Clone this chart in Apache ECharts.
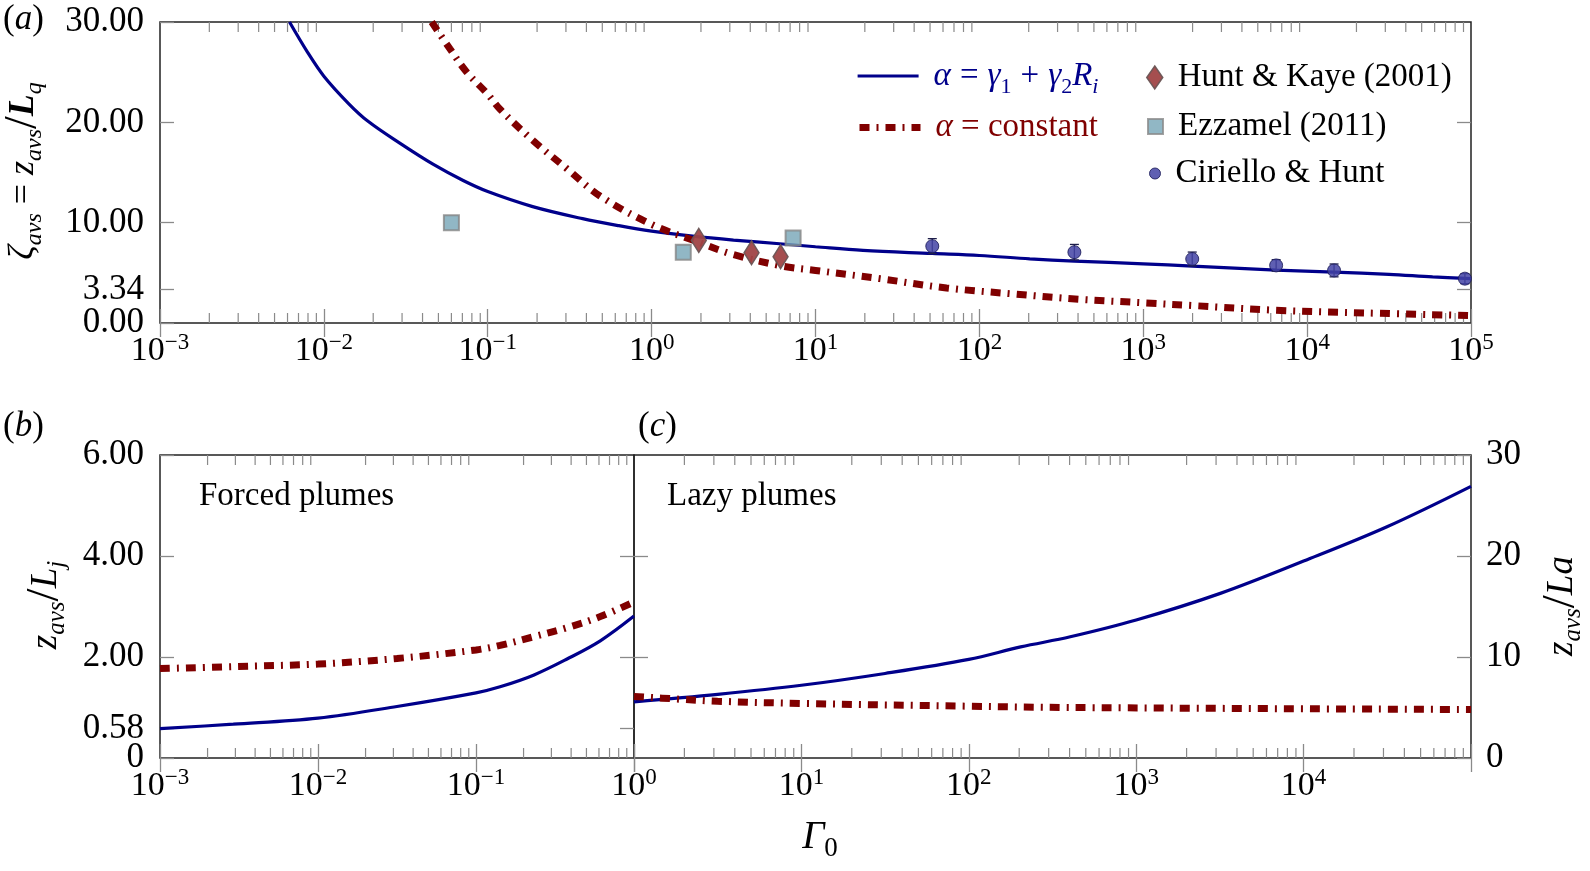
<!DOCTYPE html>
<html>
<head>
<meta charset="utf-8">
<script src="https://cdn.jsdelivr.net/npm/echarts@6.0.0/dist/echarts.min.js"></script>
<style>html,body{margin:0;padding:0;background:#fff}#chart{width:1590px;height:871px}</style>
</head>
<body>
<div id="chart"></div>
<script>
// ---------- Panel (a): zeta_avs vs Gamma_0 ----------
const aBlueX = [0.00617, 0.00794, 0.01, 0.0141, 0.0186, 0.0292, 0.0466, 0.0708, 0.1, 0.188, 0.379, 0.631, 1, 1.78, 3.16, 6.03, 10, 19.5, 51.6, 100, 203, 380, 1000, 2000, 6470, 14600, 31600, 58300, 100000];
const aBlueY = [30, 27.0, 24.6, 21.9, 20.1, 17.9, 15.8, 14.2, 13.1, 11.6, 10.4, 9.7, 9.16, 8.65, 8.26, 7.9, 7.6, 7.23, 6.93, 6.73, 6.4, 6.17, 5.9, 5.67, 5.27, 5.07, 4.85, 4.6, 4.43];
const aRedX = [0.0455, 0.0589, 0.0745, 0.1, 0.119, 0.19, 0.303, 0.484, 1, 1.97, 3.14, 6.34, 10, 24.7, 63.0, 160, 409, 1040, 2000, 6460, 22900, 100000];
const aRedY = [30, 27.3, 25.0, 22.8, 21.3, 18.15, 15.4, 12.66, 9.83, 8.0, 6.83, 5.66, 5.24, 4.42, 3.49, 2.9, 2.36, 2.0, 1.74, 1.27, 1.0, 0.74];
const hkX = [1.94, 4.07, 6.12];
const hkY = [8.23, 7.0, 6.6];
const ezX = [0.06, 1.56, 7.3];
const ezY = [10.0, 7.06, 8.46];
const chX = [51.6, 380, 1990, 6470, 14600, 91800];
const chY = [7.66, 7.06, 6.38, 5.74, 5.24, 4.42];
const chErr = [0.75, 0.77, 0.69, 0.57, 0.64, 0.5];
const aYTicks = [0, 3.34, 10, 20, 30];

// ---------- Panel (b): forced plumes ----------
const bX = [0.001, 0.00291, 0.01, 0.0316, 0.1, 0.142, 0.231, 0.377, 0.612, 1];
const bBlueY = [0.58, 0.67, 0.79, 1.02, 1.29, 1.41, 1.64, 1.96, 2.32, 2.81];
const bRedY = [1.77, 1.81, 1.86, 1.97, 2.14, 2.23, 2.4, 2.58, 2.8, 3.09];
const bYTicks = [0, 0.58, 2, 4, 6];

// ---------- Panel (c): lazy plumes ----------
const cBlueX = [1, 3.16, 10, 31.6, 100, 204, 404, 1000, 3180, 10000, 31500, 100000];
const cBlueY = [5.56, 6.3, 7.2, 8.37, 9.76, 11.0, 12.0, 13.66, 16.3, 19.5, 22.9, 26.9];
const cRedX = [1, 1.89, 3.16, 10, 100, 404, 100000];
const cRedY = [6.1, 5.82, 5.62, 5.4, 5.13, 5.0, 4.8];
const cYTicks = [0, 10, 20, 30];

const NAME_VAR = 'α = γ1 + γ2Ri';
const NAME_CONST = 'α = constant';
const NAME_HK = 'Hunt & Kaye (2001)';
const NAME_EZ = 'Ezzamel (2011)';
const NAME_CH = 'Ciriello & Hunt';

// ---------- styling ----------
const FF = '"Liberation Serif","DejaVu Serif","Times New Roman",serif';
const BLUE = '#00008b', RED = '#800000', TICK = '#8a8a8a', FRAME = '#222';
const DASHDOT = [10, 7, 2, 7];
const GA = { left: 160, top: 22, width: 1311, height: 301 };
const GB = { left: 160, top: 455, width: 474, height: 303 };
const GC = { left: 634, top: 455, width: 837, height: 303 };
const YLABEL_MARGIN = 16;

function pairs(xs, ys) { return xs.map((x, i) => [x, ys[i]]); }
function triples(xs, ys, es) { return xs.map((x, i) => [x, ys[i], es[i]]); }
function decadeMinors(e0, e1) {
  const out = [];
  for (let e = e0; e < e1; e++) for (let m = 2; m <= 9; m++) out.push([m * Math.pow(10, e), 0]);
  return out;
}

const tickRich = {
  b: { fontFamily: FF, fontSize: 34, lineHeight: 36, color: '#000' },
  p: { fontFamily: FF, fontSize: 23, lineHeight: 23, padding: [0, 0, 17, 0], color: '#000' }
};
function powLabel(v) {
  const e = Math.round(Math.log10(v));
  return '{b|10}{p|' + (e < 0 ? '\u2212' + (-e) : String(e)) + '}';
}
function logX(grid, min, max, pos, labels, hide) {
  return {
    type: 'log', logBase: 10, gridIndex: grid, min: min, max: max, position: pos,
    axisLine: { show: false }, splitLine: { show: false }, minorTick: { show: false },
    axisTick: { show: true, inside: true, length: 14, lineStyle: { color: TICK, width: 1.3 } },
    axisLabel: labels ? {
      show: true, margin: 10, showMinLabel: true, showMaxLabel: true, hideOverlap: false,
      formatter: function (v) {
        const e = Math.round(Math.log10(v));
        return (hide && hide.indexOf(e) >= 0) ? '' : powLabel(v);
      },
      rich: tickRich
    } : { show: false }
  };
}
// labelCfg: {values, fmt, margin, align}
function valY(grid, min, max, pos, ticks, labelCfg) {
  return {
    type: 'value', gridIndex: grid, min: min, max: max, position: pos,
    axisLine: { show: false }, splitLine: { show: false },
    axisTick: { show: true, inside: true, length: 14, customValues: ticks, lineStyle: { color: TICK, width: 1.3 } },
    axisLabel: labelCfg ? {
      show: true, customValues: labelCfg.values, margin: labelCfg.margin, hideOverlap: false,
      showMinLabel: true, showMaxLabel: true, align: labelCfg.align,
      fontFamily: FF, fontSize: 35, color: '#000', formatter: labelCfg.fmt
    } : { show: false }
  };
}
function minorSeries(xi, yi, e0, e1) {
  return {
    type: 'custom', xAxisIndex: xi, yAxisIndex: yi, silent: true, z: 1,
    data: decadeMinors(e0, e1), encode: { x: 0, y: 1 },
    renderItem: function (params, api) {
      const cs = params.coordSys;
      const p = api.coord([api.value(0), api.value(1)]);
      const st = { stroke: TICK, lineWidth: 1.2 };
      return { type: 'group', children: [
        { type: 'line', shape: { x1: p[0], y1: cs.y + cs.height, x2: p[0], y2: cs.y + cs.height - 10 }, style: st },
        { type: 'line', shape: { x1: p[0], y1: cs.y, x2: p[0], y2: cs.y + 10 }, style: st }
      ] };
    }
  };
}
function blueLine(name, xi, yi, data) {
  return { name: name, type: 'line', xAxisIndex: xi, yAxisIndex: yi, data: data, smooth: 0.35,
    symbol: 'none', z: 3, lineStyle: { color: BLUE, width: 3.2 }, itemStyle: { color: BLUE } };
}
function redLine(name, xi, yi, data) {
  return { name: name, type: 'line', xAxisIndex: xi, yAxisIndex: yi, data: data, smooth: 0.35,
    symbol: 'none', z: 3, lineStyle: { color: RED, width: 7, type: DASHDOT, cap: 'butt' }, itemStyle: { color: RED } };
}

// rich styles for formula texts
function mathRich(color, M, S) {
  M = M || 35; S = S || 24;
  return {
    i: { fontFamily: FF, fontStyle: 'italic', fontSize: M, lineHeight: 44, color: color },
    n: { fontFamily: FF, fontSize: M, lineHeight: 44, color: color },
    op: { fontFamily: FF, fontSize: M, lineHeight: 44, color: color, padding: [0, 9, 0, 9] },
    bi: { fontFamily: FF, fontStyle: 'italic', fontWeight: 'bold', fontSize: M, lineHeight: 44, color: color },
    sl: { fontFamily: FF, fontSize: M + 10, lineHeight: 44, color: color },
    s: { fontFamily: FF, fontStyle: 'italic', fontSize: S, lineHeight: 22, padding: [22, 0, 0, 0], color: color },
    su: { fontFamily: FF, fontSize: S, lineHeight: 22, padding: [22, 0, 0, 0], color: color },
    g: { fontSize: 10, lineHeight: 44, width: 10 }
  };
}
function legendRich(color) { return mathRich(color, 33, 22); }
function gridOpt(g) {
  return Object.assign({ show: true, borderColor: FRAME, borderWidth: 1.5, backgroundColor: 'transparent', outerBoundsMode: 'none' }, g);
}
const fmt2 = v => v.toFixed(2);

const option = {
  animation: false,
  backgroundColor: '#fff',
  textStyle: { fontFamily: FF },
  grid: [gridOpt(GA), gridOpt(GB), gridOpt(GC)],
  xAxis: [
    logX(0, 0.001, 100000, 'bottom', true),
    logX(0, 0.001, 100000, 'top', false),
    logX(1, 0.001, 1, 'bottom', true),
    logX(1, 0.001, 1, 'top', false),
    logX(2, 1, 100000, 'bottom', true, [0, 5]),
    logX(2, 1, 100000, 'top', false)
  ],
  yAxis: [
    // (a) left: labels 0, 10, 20, 30 ; the 3.34 label is carried by the mirror axis (avoids overlap-hiding)
    valY(0, 0, 30, 'left', aYTicks, { values: [0, 10, 20, 30], fmt: fmt2, margin: YLABEL_MARGIN }),
    valY(0, 0, 30, 'right', [3.34, 10, 20], { values: [3.34], fmt: fmt2, margin: -(GA.width + YLABEL_MARGIN), align: 'right' }),
    valY(1, 0, 6, 'left', bYTicks, { values: [0, 2, 4, 6], fmt: v => (v === 0 ? '0' : v.toFixed(2)), margin: YLABEL_MARGIN }),
    valY(1, 0, 6, 'right', [0.58, 2, 4], { values: [0.58], fmt: fmt2, margin: -(GB.width + YLABEL_MARGIN), align: 'right' }),
    valY(2, 0, 30, 'right', cYTicks, { values: cYTicks, fmt: v => String(v), margin: 15 }),
    valY(2, 0, 30, 'left', [10, 20], null)
  ],
  legend: [
    { left: 856, top: 54, padding: 0, itemWidth: 61, itemHeight: 14, selectedMode: false,
      data: [NAME_VAR], lineStyle: { width: 3.2, color: BLUE, type: 'solid' }, itemStyle: { opacity: 0 },
      formatter: () => '{g| }{i|α}{op|=}{i|γ}{su|1}{op|+}{i|γ}{su|2}{i|R}{s|i}',
      textStyle: { rich: legendRich(BLUE) } },
    { left: 856, top: 111, padding: 0, itemWidth: 61, itemHeight: 14, selectedMode: false,
      data: [NAME_CONST], lineStyle: { width: 7, color: RED, type: DASHDOT, cap: 'butt' }, itemStyle: { opacity: 0 },
      formatter: () => '{g| }{i|α}{n| = constant}',
      textStyle: { rich: legendRich(RED) } },
    { left: 1146, top: 61, padding: 0, itemWidth: 16, itemHeight: 23, symbolKeepAspect: false, selectedMode: false,
      data: [NAME_HK], itemStyle: { borderWidth: 1.5, borderColor: '#6a5555' },
      formatter: () => '{g| }{n|Hunt & Kaye (2001)}',
      textStyle: { rich: legendRich('#000') } },
    { left: 1147, top: 110, padding: 0, itemWidth: 15, itemHeight: 15, selectedMode: false,
      data: [NAME_EZ], itemStyle: { borderWidth: 2, borderColor: '#8a8a8a' },
      formatter: () => '{g| }{n|Ezzamel (2011)}',
      textStyle: { rich: legendRich('#000') } },
    { left: 1149, top: 157, padding: 0, itemWidth: 11, itemHeight: 13, selectedMode: false,
      data: [NAME_CH], itemStyle: { borderWidth: 1, borderColor: '#1e1e5a' },
      formatter: () => '{g| }{n|Ciriello & Hunt}',
      textStyle: { rich: legendRich('#000') } }
  ],
  graphic: [
    { type: 'text', x: 3, y: 20, style: { text: '{n|(}{i|a}{n|)}', rich: mathRich('#000'), align: 'left', verticalAlign: 'middle' } },
    { type: 'text', x: 3, y: 427, style: { text: '{n|(}{i|b}{n|)}', rich: mathRich('#000'), align: 'left', verticalAlign: 'middle' } },
    { type: 'text', x: 638, y: 427, style: { text: '{n|(}{i|c}{n|)}', rich: mathRich('#000'), align: 'left', verticalAlign: 'middle' } },
    { type: 'text', x: 199, y: 496, style: { text: 'Forced plumes', fontFamily: FF, fontSize: 33, fill: '#000', align: 'left', verticalAlign: 'middle' } },
    { type: 'text', x: 667, y: 496, style: { text: 'Lazy plumes', fontFamily: FF, fontSize: 33, fill: '#000', align: 'left', verticalAlign: 'middle' } },
    { type: 'text', x: 820, y: 838, style: { text: '{i|Γ}{su|0}', rich: mathRich('#000', 39, 27), align: 'center', verticalAlign: 'middle' } },
    { type: 'text', x: 24, y: 171, rotation: Math.PI / 2, style: { text: '{i|ζ}{s|avs}{n| = }{i|z}{s|avs}{sl|/}{bi|L}{s|q}', rich: mathRich('#000', 36, 24), align: 'center', verticalAlign: 'middle' } },
    { type: 'text', x: 46, y: 605, rotation: Math.PI / 2, style: { text: '{i|z}{s|avs}{sl|/}{i|L}{s|j}', rich: mathRich('#000', 37, 25), align: 'center', verticalAlign: 'middle' } },
    { type: 'text', x: 1562, y: 606, rotation: Math.PI / 2, style: { text: '{i|z}{s|avs}{sl|/}{i|La}', rich: mathRich('#000', 37, 25), align: 'center', verticalAlign: 'middle' } }
  ],
  series: [
    minorSeries(0, 0, -3, 5),
    minorSeries(2, 2, -3, 0),
    minorSeries(4, 4, 0, 5),
    blueLine(NAME_VAR, 0, 0, pairs(aBlueX, aBlueY)),
    redLine(NAME_CONST, 0, 0, pairs(aRedX, aRedY)),
    { name: NAME_HK, type: 'scatter', xAxisIndex: 0, yAxisIndex: 0, z: 5, data: pairs(hkX, hkY),
      symbol: 'diamond', symbolSize: [15, 24],
      itemStyle: { color: '#a04446', borderColor: '#6a5555', borderWidth: 1.5, opacity: 0.95 } },
    { name: NAME_EZ, type: 'scatter', xAxisIndex: 0, yAxisIndex: 0, z: 5, data: pairs(ezX, ezY),
      symbol: 'rect', symbolSize: 15,
      itemStyle: { color: '#76a5b6', borderColor: '#858585', borderWidth: 2 } },
    { type: 'custom', xAxisIndex: 0, yAxisIndex: 0, z: 5, silent: true,
      data: triples(chX, chY, chErr), encode: { x: 0, y: 1 },
      renderItem: function (params, api) {
        const x = api.value(0), y = api.value(1), e = api.value(2);
        const t = api.coord([x, y + e]), b = api.coord([x, y - e]);
        const st = { stroke: '#1e1e4a', lineWidth: 1.3 };
        const w = 4.5;
        return { type: 'group', children: [
          { type: 'line', shape: { x1: t[0], y1: t[1], x2: b[0], y2: b[1] }, style: st },
          { type: 'line', shape: { x1: t[0] - w, y1: t[1], x2: t[0] + w, y2: t[1] }, style: st },
          { type: 'line', shape: { x1: b[0] - w, y1: b[1], x2: b[0] + w, y2: b[1] }, style: st }
        ] };
      } },
    { name: NAME_CH, type: 'scatter', xAxisIndex: 0, yAxisIndex: 0, z: 6, data: pairs(chX, chY),
      symbol: 'circle', symbolSize: 13,
      itemStyle: { color: '#4343a4', borderColor: '#1e1e5a', borderWidth: 1, opacity: 0.85 } },
    blueLine(NAME_VAR, 2, 2, pairs(bX, bBlueY)),
    redLine(NAME_CONST, 2, 2, pairs(bX, bRedY)),
    blueLine(NAME_VAR, 4, 4, pairs(cBlueX, cBlueY)),
    redLine(NAME_CONST, 4, 4, pairs(cRedX, cRedY))
  ]
};

const chart = echarts.init(document.getElementById('chart'), null, { renderer: 'canvas' });
chart.setOption(option);
</script>
</body>
</html>
